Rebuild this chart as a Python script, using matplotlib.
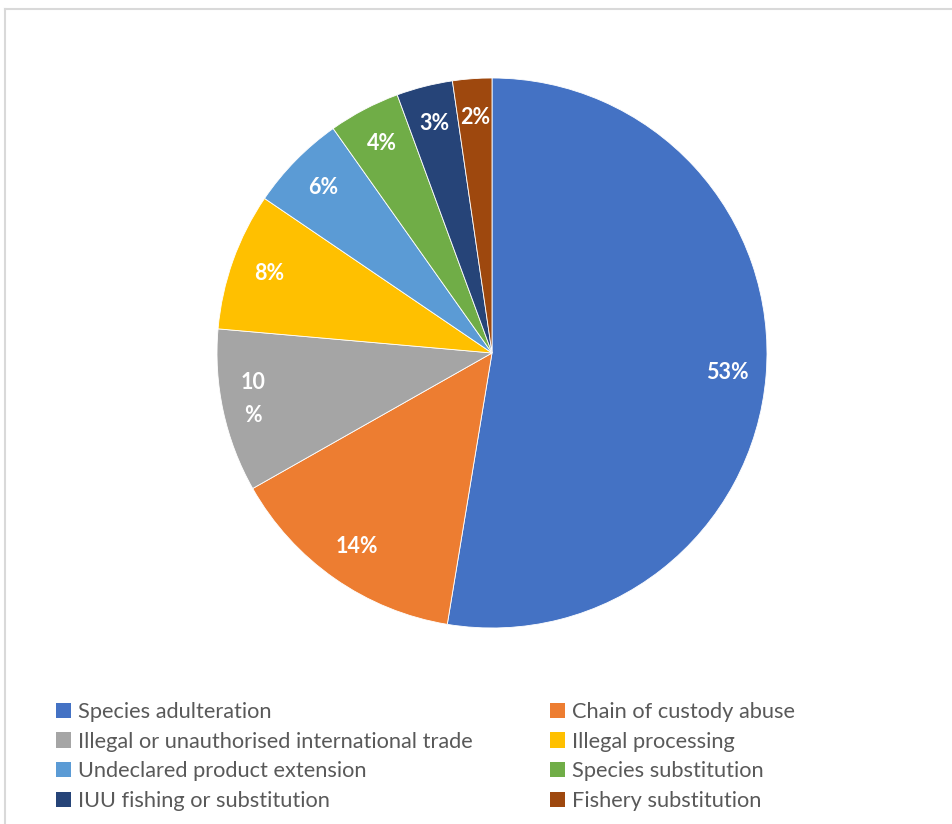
import matplotlib.pyplot as plt
from matplotlib.lines import Line2D

# Data
categories = ['Species adulteration', 'Chain of custody abuse',
              'Illegal or unauthorised international trade', 'Illegal processing',
              'Undeclared product extension', 'Species substitution',
              'IUU fishing or substitution', 'Fishery substitution']
shares = [52.6, 14.2, 9.6, 8.1, 5.7, 4.2, 3.3, 2.3]
pct_labels = ['53%', '14%', '10\n%', '8%', '6%', '4%', '3%', '2%']
colors = ['#4472C4', '#ED7D31', '#A5A5A5', '#FFC000',
          '#5B9BD5', '#70AD47', '#264478', '#9E480E']

plt.rcParams['font.family'] = ['Lato', 'DejaVu Sans']

W, H = 953, 824
fig = plt.figure(figsize=(W / 100, H / 100), dpi=100)

# light frame around the chart area (top and left edges visible)
fig.add_artist(Line2D([4.5 / W, 4.5 / W], [0, 1 - 8.5 / H], color='#d9d9d9', lw=1.5))
fig.add_artist(Line2D([4.5 / W, 1], [1 - 8.5 / H, 1 - 8.5 / H], color='#d9d9d9', lw=1.5))

# pie: centre (492, 353) px, radius 275 px
cx, cy, r = 492, 353, 275
ax = fig.add_axes([(cx - r) / W, (H - cy - r) / H, 2 * r / W, 2 * r / H])
wedges, texts = ax.pie(shares, colors=colors, startangle=90, counterclock=False,
                       labels=pct_labels, labeldistance=0.86,
                       wedgeprops=dict(edgecolor='white', linewidth=0.6))
for t in texts:
    t.set_color('white')
    t.set_fontweight('bold')
    t.set_fontsize(15.5)
    t.set_ha('center')
    t.set_va('center')
    t.set_linespacing(1.75)
# the wrapped "10 %" label sits a little further left
x, y = texts[2].get_position()
texts[2].set_position((x - 0.03, y + 0.015))
ax.set_xlim(-1, 1)
ax.set_ylim(-1, 1)
ax.set_aspect('equal')

# legend in two columns (row-wise order)
leg_kw = dict(frameon=False, fontsize=15.7, labelcolor='#595959', handlelength=0.7,
              handleheight=0.7, handletextpad=0.3, labelspacing=0.44,
              borderaxespad=0, borderpad=0)
left = [0, 2, 4, 6]
right = [1, 3, 5, 7]
leg1 = fig.legend([wedges[i] for i in left], [categories[i] for i in left],
                  loc='upper left', bbox_to_anchor=(56 / W, 1 - 702 / H), **leg_kw)
leg2 = fig.legend([wedges[i] for i in right], [categories[i] for i in right],
                  loc='upper left', bbox_to_anchor=(550 / W, 1 - 702 / H), **leg_kw)
for leg in (leg1, leg2):
    for h in leg.legend_handles:
        h.set_edgecolor('none')

fig.savefig('out.png', dpi=100)
